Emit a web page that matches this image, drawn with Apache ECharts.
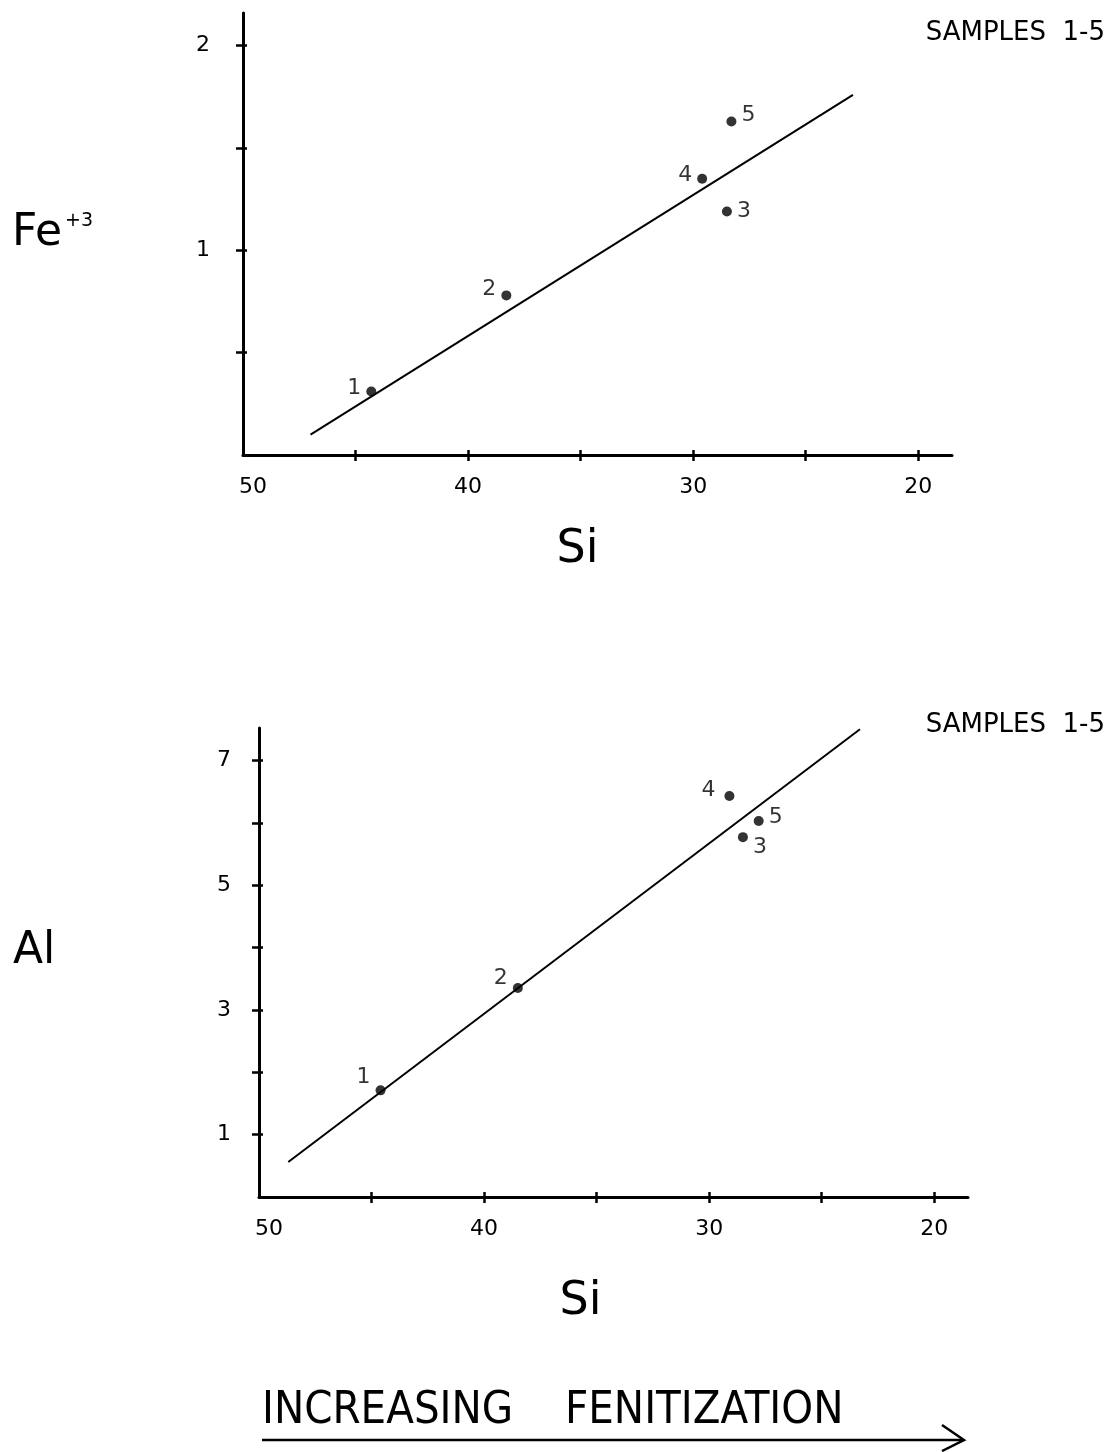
<!DOCTYPE html>
<html>
<head>
<meta charset="utf-8">
<script src="https://cdn.jsdelivr.net/npm/echarts@6/dist/echarts.min.js"></script>
<style>
html, body { margin: 0; padding: 0; background: #fff; }
#chart { width: 1118px; height: 1452px; }
</style>
</head>
<body>
<div id="chart"></div>
<script>
// sample numbers
var samples = ['1', '2', '3', '4', '5'];

// upper plot: Fe+3 against Si
var siTop = [44.3, 38.3, 28.5, 29.6, 28.3];
var fe3 = [0.31, 0.78, 1.19, 1.35, 1.63];
var fitFe = [[47.0, 0.10], [22.9, 1.76]];

// lower plot: Al against Si
var siBottom = [44.6, 38.5, 28.5, 29.1, 27.8];
var al = [1.71, 3.35, 5.77, 6.43, 6.03];
var fitAl = [[48.7, 0.56], [23.3, 7.50]];

// ticks and labels
var siTicks = [20, 25, 30, 35, 40, 45];
var siLabels = [50, 40, 30, 20];
var feTicks = [0.5, 1, 1.5, 2];
var feLabels = [1, 2];
var alTicks = [1, 2, 3, 4, 5, 6, 7];
var alLabels = [1, 3, 5, 7];

// where the sample number sits next to its dot
var placeTop = [['left', [0, -3]], ['left', [0, -6]], ['right', [0, 0]], ['left', [0, -3]], ['right', [0, -6]]];
var placeBottom = [['left', [0, -13]], ['left', [0, -10]], ['right', [0, 10]], ['left', [-4, -6]], ['right', [0, -4]]];

var FONT = 'DejaVu Sans';
var NARROW = '"Liberation Sans Narrow", "DejaVu Sans Condensed", sans-serif';
var INK = '#000';

function points(xs, ys, place) {
    return samples.map(function (s, i) {
        return {
            name: s,
            value: [xs[i], ys[i]],
            label: { position: place[i][0], offset: place[i][1] }
        };
    });
}

function siAxes(grid, gap, shift) {
    var base = {
        gridIndex: grid, type: 'value', min: 18.5, max: 50, inverse: true,
        position: 'bottom', splitLine: { show: false }
    };
    var main = Object.assign({}, base, {
        axisLine: { onZero: false, lineStyle: { color: INK, width: 3 } },
        axisTick: { length: 6, customValues: siTicks, lineStyle: { color: INK, width: 2.5 } },
        axisLabel: {
            customValues: siLabels, margin: 21, color: INK, fontSize: 22, fontFamily: FONT,
            formatter: function (v) { return v === 50 ? '{o|50}' : String(v); },
            rich: { o: { padding: [0, 0, 0, 20], color: INK, fontSize: 22, fontFamily: FONT } }
        },
        name: 'Si', nameLocation: 'middle', nameGap: gap,
        nameTextStyle: { color: INK, fontSize: 46, fontFamily: FONT, padding: [0, shift, 0, 0] }
    });
    var inner = Object.assign({}, base, {
        axisLine: { show: false, onZero: false },
        axisTick: { inside: true, length: 5, customValues: siTicks, lineStyle: { color: INK, width: 2.5 } },
        axisLabel: { show: false }
    });
    return [main, inner];
}

function valueAxes(grid, max, ticks, labels, margin, name, gap, pad) {
    var base = {
        gridIndex: grid, type: 'value', min: 0, max: max, position: 'left',
        splitLine: { show: false }
    };
    var main = Object.assign({}, base, {
        axisLine: { onZero: false, lineStyle: { color: INK, width: 3 } },
        axisTick: { length: 7, customValues: ticks, lineStyle: { color: INK, width: 2.5 } },
        axisLabel: { customValues: labels, margin: margin, color: INK, fontSize: 22, fontFamily: FONT },
        name: name, nameLocation: 'middle', nameRotate: 0, nameGap: gap,
        nameTextStyle: {
            color: INK, fontSize: 44, fontFamily: FONT, align: 'left', verticalAlign: 'middle',
            padding: pad,
            rich: {
                b: { color: INK, fontSize: 44, fontFamily: FONT },
                s: { color: INK, fontSize: 19, fontFamily: FONT, verticalAlign: 'top', padding: [0, 0, 0, 3] }
            }
        }
    });
    var inner = Object.assign({}, base, {
        axisLine: { show: false, onZero: false },
        axisTick: { inside: true, length: 4, customValues: ticks, lineStyle: { color: INK, width: 2.5 } },
        axisLabel: { show: false }
    });
    return [main, inner];
}

var pointLabel = { show: true, formatter: '{b}', color: INK, fontSize: 22, fontFamily: FONT, distance: 5 };
var titleStyle = { color: INK, fontSize: 26, fontWeight: 'normal', fontFamily: FONT };

var chart = echarts.init(document.getElementById('chart'));
var option = {
    animation: false,
    backgroundColor: '#fff',
    title: [
        { text: 'SAMPLES  1-5', right: 8, top: 15, textStyle: titleStyle },
        { text: 'SAMPLES  1-5', right: 8, top: 707, textStyle: titleStyle }
    ],
    grid: [
        { left: 243, right: 166, top: 13, bottom: 997 },
        { left: 259, right: 150, top: 728, bottom: 255 }
    ],
    xAxis: siAxes(0, 72, 40).concat(siAxes(1, 82, 66)),
    yAxis: valueAxes(0, 2.16, feTicks, feLabels, 33, '{b|Fe}{s|+3}', 231, [0, 0, 0, 0])
        .concat(valueAxes(1, 7.52, alTicks, alLabels, 28, 'Al', 246, [0, 0, 22, 0])),
    series: [
        {
            type: 'line', xAxisIndex: 0, yAxisIndex: 0, data: fitFe, symbol: 'none',
            lineStyle: { color: INK, width: 2 }, silent: true
        },
        {
            type: 'scatter', xAxisIndex: 0, yAxisIndex: 0, data: points(siTop, fe3, placeTop),
            symbolSize: 10, itemStyle: { color: INK }, label: pointLabel
        },
        {
            type: 'line', xAxisIndex: 2, yAxisIndex: 2, data: fitAl, symbol: 'none',
            lineStyle: { color: INK, width: 2 }, silent: true
        },
        {
            type: 'scatter', xAxisIndex: 2, yAxisIndex: 2, data: points(siBottom, al, placeBottom),
            symbolSize: 10, itemStyle: { color: INK }, label: pointLabel
        }
    ],
    graphic: [
        {
            type: 'text', left: 262, top: 1389,
            style: { text: 'INCREASING', fill: INK, fontSize: 45, fontFamily: NARROW }
        },
        {
            type: 'text', left: 565, top: 1389,
            style: { text: 'FENITIZATION', fill: INK, fontSize: 45, fontFamily: NARROW }
        },
        {
            type: 'polyline', shape: { points: [[262, 1440], [962, 1440]] },
            style: { stroke: INK, lineWidth: 2.5, fill: null }
        },
        {
            type: 'polyline', shape: { points: [[942, 1425], [964, 1440], [942, 1451]] },
            style: { stroke: INK, lineWidth: 2.5, fill: null }
        }
    ]
};
chart.setOption(option);
</script>
</body>
</html>
